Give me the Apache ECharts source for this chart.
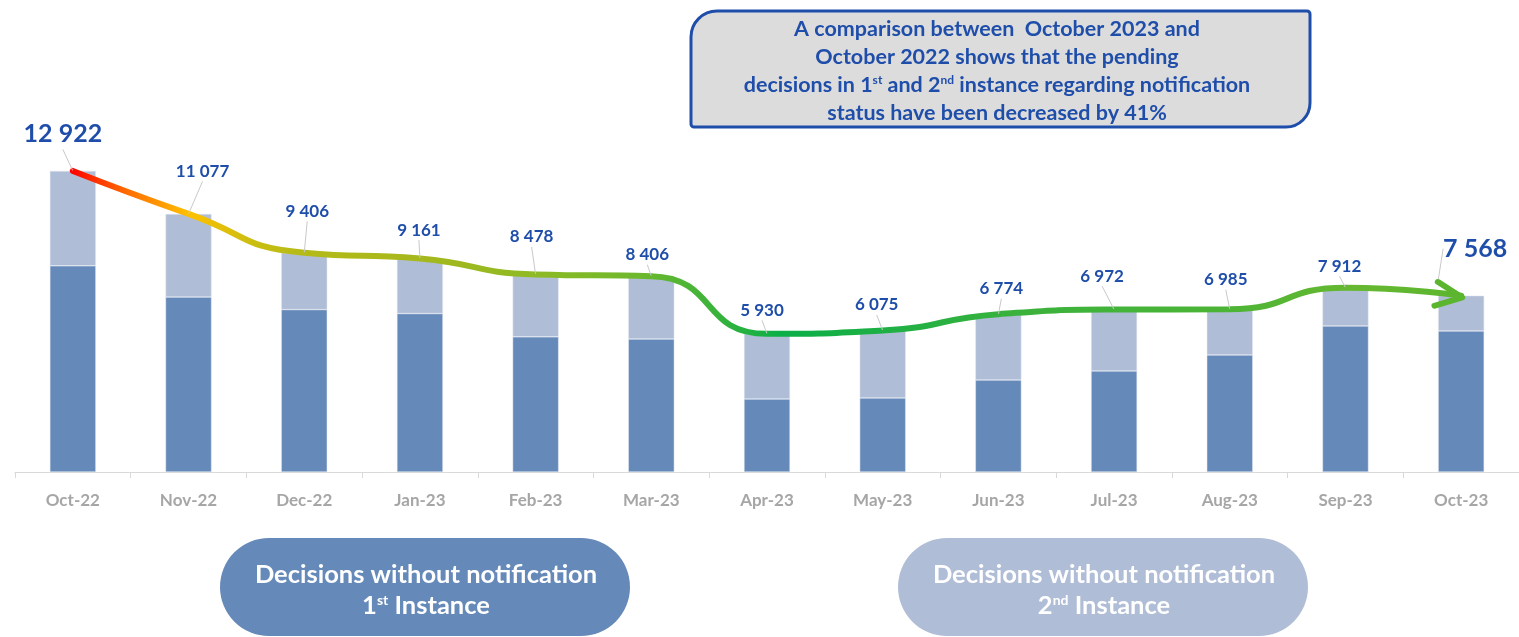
<!DOCTYPE html>
<html>
<head>
<meta charset="utf-8">
<script src="https://cdn.jsdelivr.net/npm/echarts@6/dist/echarts.min.js"></script>
<style>
  html, body { margin: 0; padding: 0; background: #fff; }
  #chart { width: 1519px; height: 637px; }
</style>
</head>
<body>
<div id="chart"></div>
<script>
  // data
  const months = ['Oct-22', 'Nov-22', 'Dec-22', 'Jan-23', 'Feb-23', 'Mar-23', 'Apr-23',
    'May-23', 'Jun-23', 'Jul-23', 'Aug-23', 'Sep-23', 'Oct-23'];
  const firstInstance = [8850, 7510, 6970, 6800, 5800, 5710, 3135, 3180, 3950, 4340, 5025, 6270, 6055];
  const secondInstance = [4072, 3567, 2436, 2361, 2678, 2696, 2795, 2895, 2824, 2632, 1960, 1642, 1513];
  const totals = [12922, 11077, 9406, 9161, 8478, 8406, 5930, 6075, 6774, 6972, 6985, 7912, 7568];

  // where each total label sits relative to its point (text centre, px)
  const labelShift = [[-10, -36], [14, -42], [3, -41], [-1, -28], [-4, -37], [-4, -21], [-5, -23],
    [-6, -25], [3, -25], [-12, -33], [-4, -29], [-6, -21], [26, -30]];

  const FONT = 'Lato';
  const BLUE = '#1F4EAA';
  const DARK = '#6589B8';
  const LIGHT = '#B0BDD6';

  function fmt(v) {
    return String(v).replace(/\B(?=(\d{3})+(?!\d))/g, ' ');
  }

  const last = totals.length - 1;
  const lineData = totals.map(function (v, i) {
    const big = i === 0 || i === last;
    const item = {
      value: v,
      label: { fontSize: big ? 25 : 17, lineHeight: big ? 30 : 20 }
    };
    if (i === last) {
      item.symbol = 'path://M0,0 L26,12 L0,24';
      item.symbolSize = [26, 24];
      item.symbolOffset = [-12, 0];
      item.symbolRotate = -8;
      item.itemStyle = { color: 'none', borderColor: '#5CB52F', borderWidth: 6, borderCap: 'round', borderJoin: 'round' };
    }
    return item;
  });

  const chart = echarts.init(document.getElementById('chart'));

  const option = {
    animation: false,
    grid: { left: 15, right: 0, top: 6, bottom: 165 },
    xAxis: {
      type: 'category',
      data: months,
      axisLine: { lineStyle: { color: '#D9D9D9', width: 1 } },
      axisTick: { show: true, length: 6, lineStyle: { color: '#D9D9D9' } },
      axisLabel: { color: '#A6A6A6', fontFamily: FONT, fontWeight: 'bold', fontSize: 17, margin: 20 }
    },
    yAxis: { type: 'value', min: 0, max: 20000, show: false, splitLine: { show: false } },
    series: [
      {
        name: '1st Instance',
        type: 'bar',
        stack: 'total',
        barWidth: 46,
        data: firstInstance,
        itemStyle: { color: DARK, borderColor: '#E4E9F2', borderWidth: 0.5 }
      },
      {
        name: '2nd Instance',
        type: 'bar',
        stack: 'total',
        barWidth: 46,
        data: secondInstance,
        itemStyle: { color: LIGHT, borderColor: '#E4E9F2', borderWidth: 0.5 }
      },
      {
        name: 'Total',
        type: 'line',
        data: lineData,
        smooth: 0.55,
        symbol: 'circle',
        symbolSize: 1,
        showSymbol: true,
        itemStyle: { color: 'rgba(0,0,0,0)' },
        z: 5,
        lineStyle: {
          width: 6,
          cap: 'round',
          color: {
            type: 'linear', x: 0, y: 0, x2: 1, y2: 0,
            colorStops: [
              { offset: 0, color: '#FF0000' },
              { offset: 0.04, color: '#FF6A00' },
              { offset: 0.085, color: '#FFC000' },
              { offset: 0.13, color: '#CBBE10' },
              { offset: 0.17, color: '#B3BA18' },
              { offset: 0.25, color: '#A6B81C' },
              { offset: 0.33, color: '#8FBA24' },
              { offset: 0.41, color: '#6DB82C' },
              { offset: 0.51, color: '#0BAF48' },
              { offset: 0.6, color: '#22B043' },
              { offset: 0.68, color: '#3AB23C' },
              { offset: 0.83, color: '#4CB436' },
              { offset: 0.92, color: '#66B830' },
              { offset: 1, color: '#5CB52F' }
            ]
          }
        },
        label: {
          show: true,
          position: 'top',
          distance: 0,
          color: BLUE,
          fontFamily: FONT,
          fontWeight: 'bold',
          fontSize: 17,
          formatter: function (p) { return fmt(p.value); }
        },
        labelLine: { show: true, lineStyle: { color: '#C8C8C8', width: 1 } },
        labelLayout: function (p) {
          const s = labelShift[p.dataIndex];
          const h = p.labelRect.height;
          return { dx: s[0], dy: s[1] + h / 2 };
        }
      }
    ],
    graphic: [
      {
        type: 'rect',
        shape: { x: 691, y: 11, width: 619, height: 116, r: [26, 3, 24, 3] },
        style: { fill: '#DCDCDC', stroke: '#1F4EAA', lineWidth: 3 },
        z: 10
      },
      {
        type: 'text',
        z: 11,
        style: {
          x: 997,
          y: 71,
          textAlign: 'center',
          textVerticalAlign: 'middle',
          text: 'A comparison between  October 2023 and\nOctober 2022 shows that the pending\n' +
            'decisions in 1{sup|st} and 2{sup|nd} instance regarding notification\n' +
            'status have been decreased by 41%',
          fill: BLUE,
          font: 'bold 21.5px ' + FONT,
          lineHeight: 28,
          rich: {
            sup: { fontSize: 12, fontWeight: 'bold', fontFamily: FONT, fill: BLUE, verticalAlign: 'top', padding: [3, 0, 0, 0], lineHeight: 28 }
          }
        }
      },
      {
        type: 'rect',
        shape: { x: 220, y: 538, width: 410, height: 98, r: 49 },
        style: { fill: DARK },
        z: 10
      },
      {
        type: 'text',
        z: 11,
        style: {
          x: 426, y: 590,
          textAlign: 'center',
          textVerticalAlign: 'middle',
          text: 'Decisions without notification\n1{sup|st} Instance',
          fill: '#FFFFFF',
          font: 'bold 25.5px ' + FONT,
          lineHeight: 31,
          rich: {
            sup: { fontSize: 14, fontWeight: 'bold', fontFamily: FONT, fill: '#FFFFFF', verticalAlign: 'top', padding: [3, 0, 0, 0], lineHeight: 31 }
          }
        }
      },
      {
        type: 'rect',
        shape: { x: 898, y: 538, width: 410, height: 98, r: 49 },
        style: { fill: LIGHT },
        z: 10
      },
      {
        type: 'text',
        z: 11,
        style: {
          x: 1104, y: 590,
          textAlign: 'center',
          textVerticalAlign: 'middle',
          text: 'Decisions without notification\n2{sup|nd} Instance',
          fill: '#FFFFFF',
          font: 'bold 25.5px ' + FONT,
          lineHeight: 31,
          rich: {
            sup: { fontSize: 14, fontWeight: 'bold', fontFamily: FONT, fill: '#FFFFFF', verticalAlign: 'top', padding: [3, 0, 0, 0], lineHeight: 31 }
          }
        }
      }
    ]
  };

  chart.setOption(option);
</script>
</body>
</html>
